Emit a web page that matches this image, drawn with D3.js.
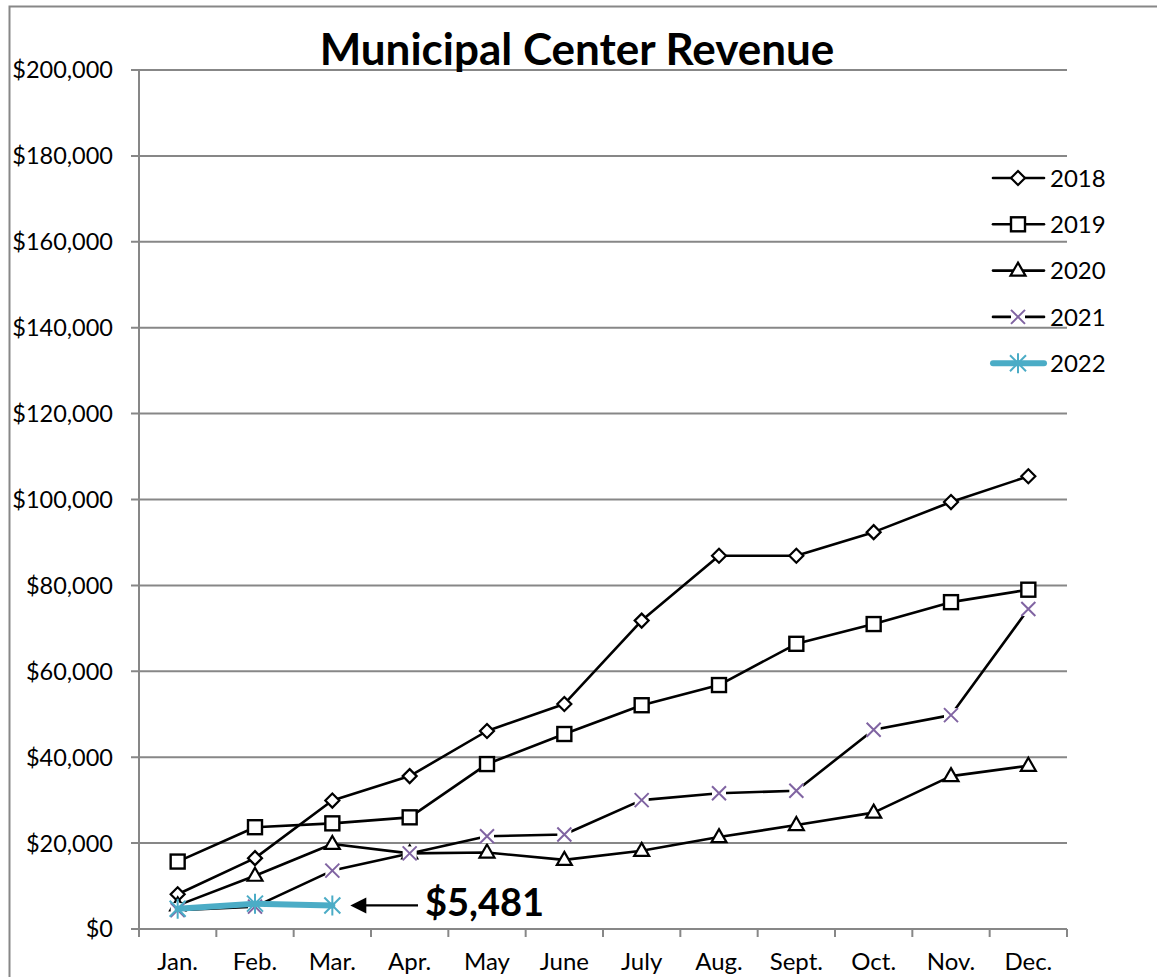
<!DOCTYPE html>
<html>
<head>
<meta charset="utf-8">
<script src="https://cdn.jsdelivr.net/npm/d3@7"></script>
<style>
  body { margin: 0; background: #fff; }
  text { font-family: Lato, "Open Sans", sans-serif; fill: #000; }
</style>
</head>
<body>
<div id="chart"></div>
<script>
const months = ["Jan.", "Feb.", "Mar.", "Apr.", "May", "June", "July", "Aug.", "Sept.", "Oct.", "Nov.", "Dec."];
const years = ["2018", "2019", "2020", "2021", "2022"];
const revenue2018 = [8100, 16500, 29900, 35600, 46100, 52400, 71800, 86900, 86900, 92400, 99400, 105400];
const revenue2019 = [15700, 23700, 24600, 26000, 38400, 45400, 52100, 56800, 66400, 71000, 76100, 79000];
const revenue2020 = [5500, 12400, 19800, 17600, 17800, 16100, 18200, 21400, 24200, 27100, 35600, 38000];
const revenue2021 = [4400, 5200, 13600, 17600, 21600, 22000, 30000, 31600, 32200, 46400, 49800, 74500];
const revenue2022 = [4700, 5900, 5481];
const yTickValues = [0, 20000, 40000, 60000, 80000, 100000, 120000, 140000, 160000, 180000, 200000];
const calloutLabel = "$5,481";

document.addEventListener("DOMContentLoaded", function() {
    const width = 1157, height = 977;
    const plot = { left: 139, right: 1067, top: 70, bottom: 929 };
    const grid = "#878787";

    const svg = d3.select("#chart").append("svg")
        .attr("width", width)
        .attr("height", height);

    // outer chart border (runs off the right and bottom edges)
    svg.append("rect")
        .attr("x", 9.5).attr("y", 6.5)
        .attr("width", width + 20).attr("height", height + 20)
        .attr("fill", "none")
        .attr("stroke", grid)
        .attr("stroke-width", 2);

    const x = d3.scaleBand().domain(months).range([plot.left, plot.right]);
    const y = d3.scaleLinear().domain([0, 200000]).range([plot.bottom, plot.top]);
    const cx = m => x(m) + x.bandwidth() / 2;

    // horizontal gridlines + y tick marks
    svg.append("g").selectAll("line")
        .data(yTickValues)
        .enter().append("line")
        .attr("x1", plot.left - 8).attr("x2", plot.right)
        .attr("y1", d => y(d)).attr("y2", d => y(d))
        .attr("stroke", grid).attr("stroke-width", 2);

    svg.append("g").selectAll("text")
        .data(yTickValues)
        .enter().append("text")
        .attr("x", 113)
        .attr("y", d => y(d))
        .attr("dy", "0.36em")
        .attr("text-anchor", "end")
        .style("font-size", "23.5px")
        .text(d => "$" + d3.format(",")(d));

    // y axis line
    svg.append("line")
        .attr("x1", plot.left).attr("x2", plot.left)
        .attr("y1", plot.top).attr("y2", plot.bottom)
        .attr("stroke", grid).attr("stroke-width", 2);

    // x axis ticks at band edges
    const edges = months.map(m => x(m)).concat([plot.right]);
    svg.append("g").selectAll("line")
        .data(edges)
        .enter().append("line")
        .attr("x1", d => d).attr("x2", d => d)
        .attr("y1", plot.bottom).attr("y2", plot.bottom + 8)
        .attr("stroke", grid).attr("stroke-width", 2);

    svg.append("g").selectAll("text")
        .data(months)
        .enter().append("text")
        .attr("x", d => cx(d))
        .attr("y", 970)
        .attr("text-anchor", "middle")
        .style("font-size", "24px")
        .text(d => d);

    // title
    svg.append("text")
        .attr("x", 577)
        .attr("y", 65)
        .attr("text-anchor", "middle")
        .style("font-size", "44px")
        .style("font-weight", "bold")
        .text("Municipal Center Revenue");

    // marker painters
    function diamond(g) {
        g.append("path").attr("d", "M0,-7L7,0L0,7L-7,0Z")
            .attr("fill", "#fff").attr("stroke", "#000").attr("stroke-width", 2.2);
    }
    function square(g) {
        g.append("rect").attr("x", -7).attr("y", -7).attr("width", 14).attr("height", 14)
            .attr("fill", "#fff").attr("stroke", "#000").attr("stroke-width", 2.4);
    }
    function triangle(g) {
        g.append("path").attr("d", "M0,-8L7.5,5L-7.5,5Z")
            .attr("fill", "#fff").attr("stroke", "#000").attr("stroke-width", 2.2);
    }
    function cross(g) {
        g.append("rect").attr("x", -7).attr("y", -7).attr("width", 14).attr("height", 14)
            .attr("fill", "#fff");
        g.append("path").attr("d", "M-7,-7L7,7M-7,7L7,-7")
            .attr("stroke", "#8064a2").attr("stroke-width", 2).attr("fill", "none");
    }
    function star(g) {
        g.append("path").attr("d", "M-8,-8L8,8M-8,8L8,-8M0,-10L0,10")
            .attr("stroke", "#4bacc6").attr("stroke-width", 2).attr("fill", "none");
    }

    const series = [
        { name: years[0], values: revenue2018, marker: diamond, color: "#000", width: 2.6 },
        { name: years[1], values: revenue2019, marker: square, color: "#000", width: 2.6 },
        { name: years[2], values: revenue2020, marker: triangle, color: "#000", width: 2.6 },
        { name: years[3], values: revenue2021, marker: cross, color: "#000", width: 2.6 },
        { name: years[4], values: revenue2022, marker: star, color: "#4bacc6", width: 6 }
    ];

    const line = d3.line()
        .x((d, i) => cx(months[i]))
        .y(d => y(d));

    series.forEach(s => {
        svg.append("path")
            .datum(s.values)
            .attr("d", line)
            .attr("fill", "none")
            .attr("stroke", s.color)
            .attr("stroke-width", s.width)
            .attr("stroke-linecap", "round")
            .attr("stroke-linejoin", "round");

        svg.append("g").selectAll("g")
            .data(s.values)
            .enter().append("g")
            .attr("transform", (d, i) => `translate(${cx(months[i])},${y(d)})`)
            .each(function() { s.marker(d3.select(this)); });
    });

    // legend
    const legend = svg.append("g");
    series.forEach((s, i) => {
        const ly = 178 + i * 46.3;
        legend.append("line")
            .attr("x1", 993).attr("x2", 1044)
            .attr("y1", ly).attr("y2", ly)
            .attr("stroke", s.color)
            .attr("stroke-width", s.width)
            .attr("stroke-linecap", "round");
        const mg = legend.append("g").attr("transform", `translate(1018,${ly})`);
        s.marker(mg);
        legend.append("text")
            .attr("x", 1050)
            .attr("y", ly)
            .attr("dy", "0.36em")
            .style("font-size", "24px")
            .text(s.name);
    });

    // callout for the latest value
    const last = revenue2022.length - 1;
    const ay = y(revenue2022[last]);
    const tipX = cx(months[last]) + 18;
    svg.append("line")
        .attr("x1", tipX + 14).attr("x2", 418)
        .attr("y1", ay).attr("y2", ay)
        .attr("stroke", "#000").attr("stroke-width", 2.2);
    svg.append("path")
        .attr("d", `M${tipX},${ay}L${tipX + 16},${ay - 8}L${tipX + 16},${ay + 8}Z`)
        .attr("fill", "#000");
    svg.append("text")
        .attr("x", 425)
        .attr("y", 916)
        .style("font-size", "38px")
        .style("font-weight", "bold")
        .text(calloutLabel);
});
</script>
</body>
</html>
